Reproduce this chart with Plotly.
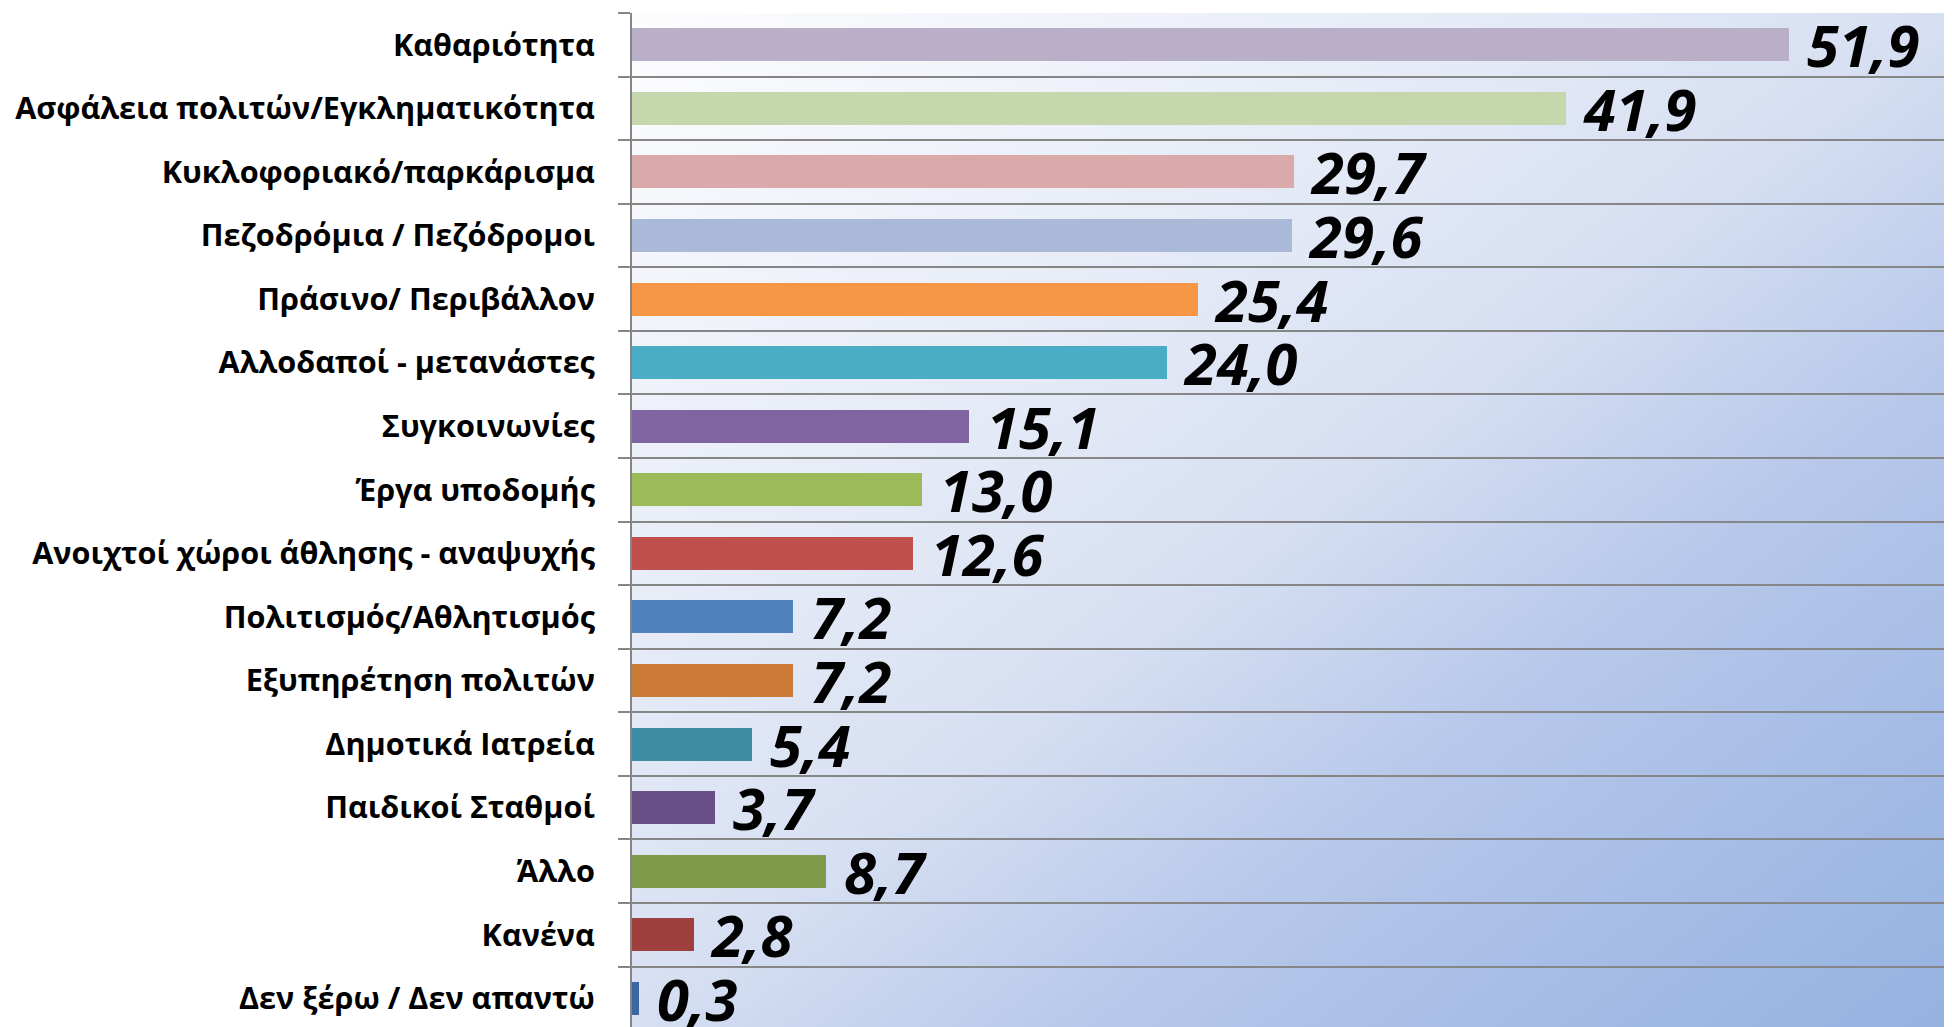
import base64
import plotly.graph_objects as go

categories = [
    "Καθαριότητα",
    "Ασφάλεια πολιτών/Εγκληματικότητα",
    "Κυκλοφοριακό/παρκάρισμα",
    "Πεζοδρόμια / Πεζόδρομοι",
    "Πράσινο/ Περιβάλλον",
    "Αλλοδαποί - μετανάστες",
    "Συγκοινωνίες",
    "Έργα υποδομής",
    "Ανοιχτοί χώροι άθλησης - αναψυχής",
    "Πολιτισμός/Αθλητισμός",
    "Εξυπηρέτηση πολιτών",
    "Δημοτικά Ιατρεία",
    "Παιδικοί Σταθμοί",
    "Άλλο",
    "Κανένα",
    "Δεν ξέρω / Δεν απαντώ",
]
values = [51.9, 41.9, 29.7, 29.6, 25.4, 24.0, 15.1, 13.0, 12.6, 7.2, 7.2, 5.4, 3.7, 8.7, 2.8, 0.3]
colors = [
    "#b9afc9", "#c6d6ad", "#daa9a9", "#aab9d7", "#f79646", "#4bacc6",
    "#8064a2", "#9bbb59", "#c0504d", "#4f81bd", "#cc7a38", "#3d8da5",
    "#684f87", "#7f9a4a", "#9d403e", "#3d67a0",
]
value_labels = ["\u00a0" + f"{v:.1f}".replace(".", ",") for v in values]

# diagonal gradient background for plot area
stops = [(0.0, "#fdfdfe"), (0.38, "#e1e7f5"), (0.5, "#d6dff2"),
         (0.67, "#b7c8ea"), (0.85, "#a3bbe5"), (1.0, "#96b2e1")]
stop_xml = "".join(f'<stop offset="{o}" stop-color="{c}"/>' for o, c in stops)
svg = ('<svg xmlns="http://www.w3.org/2000/svg" width="400" height="300" '
       'viewBox="0 0 400 300" preserveAspectRatio="none"><defs>'
       f'<linearGradient id="g" x1="0" y1="0" x2="1" y2="1">{stop_xml}</linearGradient>'
       '</defs><rect width="400" height="300" fill="url(#g)"/></svg>')
bg_src = "data:image/svg+xml;base64," + base64.b64encode(svg.encode()).decode()

fig = go.Figure(go.Bar(
    x=values,
    y=categories,
    orientation="h",
    marker=dict(color=colors, line=dict(width=0)),
    width=0.52,
    text=value_labels,
    textposition="outside",
    textfont=dict(family="Open Sans", size=58, color="black", weight="bold", style="italic"),
    constraintext="none",
    cliponaxis=False,
    hoverinfo="x+y",
))

fig.update_layout(
    width=1944,
    height=1019,
    margin=dict(l=624, r=0, t=5, b=0),
    paper_bgcolor="white",
    plot_bgcolor="rgba(0,0,0,0)",
    showlegend=False,
    bargap=0,
    images=[dict(source=bg_src, xref="paper", yref="paper", x=0, y=1,
                 sizex=1, sizey=1, xanchor="left", yanchor="top",
                 sizing="stretch", layer="below")],
    xaxis=dict(range=[0, 59.2], showgrid=False, zeroline=False,
               showticklabels=False, showline=False, fixedrange=True),
    yaxis=dict(
        type="category",
        categoryorder="array",
        categoryarray=categories,
        range=[15.45, -0.5],
        tickson="boundaries",
        showgrid=True,
        gridcolor="#868686",
        gridwidth=2,
        ticks="outside",
        ticklen=12,
        tickwidth=2,
        tickcolor="#868686",
        showline=True,
        linecolor="#868686",
        linewidth=2,
        ticklabelstandoff=29,
        automargin=False,
        tickfont=dict(family="Open Sans", size=30.6, color="black", weight="bold"),
        fixedrange=True,
    ),
)

fig.write_html("out.html")
